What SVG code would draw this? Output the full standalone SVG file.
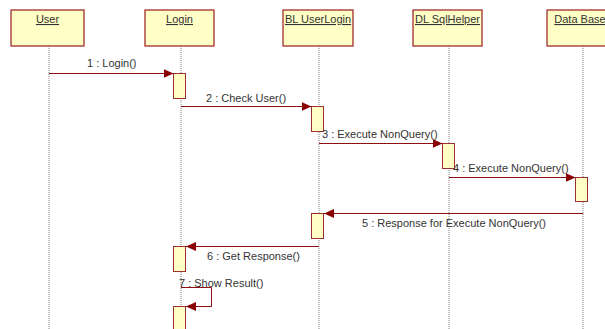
<svg xmlns="http://www.w3.org/2000/svg" width="605" height="329" viewBox="0 0 605 329">
<style>
.box{fill:#FFFFC6;stroke:#9C1C1C;stroke-width:1.2}
.act{fill:#FFFFC6;stroke:#9C3030;stroke-width:1}
.life{stroke:#808080;stroke-width:1;stroke-dasharray:1,1}
.msg{stroke:#8B1010;stroke-width:1;fill:none;marker-end:url(#ah)}
.t{font-family:"Liberation Sans",Arial,sans-serif;font-size:11px;fill:#333}
.h{font-family:"Liberation Sans",Arial,sans-serif;font-size:11px;fill:#333;text-anchor:middle;text-decoration:underline}
</style>
<defs>
<marker id="ah" viewBox="0 0 10 10" refX="10" refY="5" markerWidth="10" markerHeight="10" markerUnits="userSpaceOnUse" orient="auto">
<path d="M0,0.5 L10,5 L0,9.5 z" fill="#8B0000"/>
</marker>
</defs>
<rect width="605" height="329" fill="#fff"/>
<g id="lifelines">
<line class="life" x1="49" y1="46" x2="49" y2="329"/>
<line class="life" x1="181" y1="46" x2="181" y2="329"/>
<line class="life" x1="319" y1="46" x2="319" y2="329"/>
<line class="life" x1="449" y1="46" x2="449" y2="329"/>
<line class="life" x1="583" y1="46" x2="583" y2="329"/>
</g>
<g id="user"><rect class="box" x="11" y="10" width="73" height="36"/><text class="h" x="47.5" y="23">User</text></g>
<g id="login"><rect class="box" x="145" y="10" width="69" height="36"/><text class="h" x="179.5" y="23">Login</text></g>
<g id="bluserlogin"><rect class="box" x="283" y="10" width="70" height="36"/><text class="h" x="318" y="23">BL UserLogin</text></g>
<g id="dlsqlhelper"><rect class="box" x="413" y="10" width="69" height="36"/><text class="h" x="447.5" y="23">DL SqlHelper</text></g>
<g id="database"><rect class="box" x="547" y="10" width="72" height="36"/><text class="h" x="580" y="23">Data Base</text></g>
<g id="activations">
<rect class="act" x="173.5" y="73.5" width="12" height="25"/>
<rect class="act" x="311.5" y="106.5" width="12" height="25"/>
<rect class="act" x="442.5" y="143.5" width="12" height="25"/>
<rect class="act" x="575.5" y="177.5" width="12" height="24"/>
<rect class="act" x="311.5" y="213.5" width="12" height="25"/>
<rect class="act" x="173.5" y="246.5" width="12" height="25"/>
<rect class="act" x="173.5" y="306.5" width="12" height="30"/>
</g>
<g id="connectors">
<line class="msg" x1="49" y1="73.5" x2="173.5" y2="73.5"/>
<line class="msg" x1="181" y1="106.5" x2="311.5" y2="106.5"/>
<line class="msg" x1="319" y1="143.5" x2="442.5" y2="143.5"/>
<line class="msg" x1="449" y1="177.5" x2="575.5" y2="177.5"/>
<line class="msg" x1="583" y1="213.5" x2="324" y2="213.5"/>
<line class="msg" x1="319" y1="246.5" x2="186" y2="246.5"/>
<polyline class="msg" points="181,287.5 211.5,287.5 211.5,306.5 186,306.5"/>
</g>
<g id="labels">
<text class="t" x="87" y="67">1 : Login()</text>
<text class="t" x="206" y="102">2 : Check User()</text>
<text class="t" x="322" y="138">3 : Execute NonQuery()</text>
<text class="t" x="453" y="172">4 : Execute NonQuery()</text>
<text class="t" x="362" y="227">5 : Response for Execute NonQuery()</text>
<text class="t" x="207" y="260">6 : Get Response()</text>
<text class="t" x="179" y="287">7 : Show Result()</text>
</g>
</svg>
